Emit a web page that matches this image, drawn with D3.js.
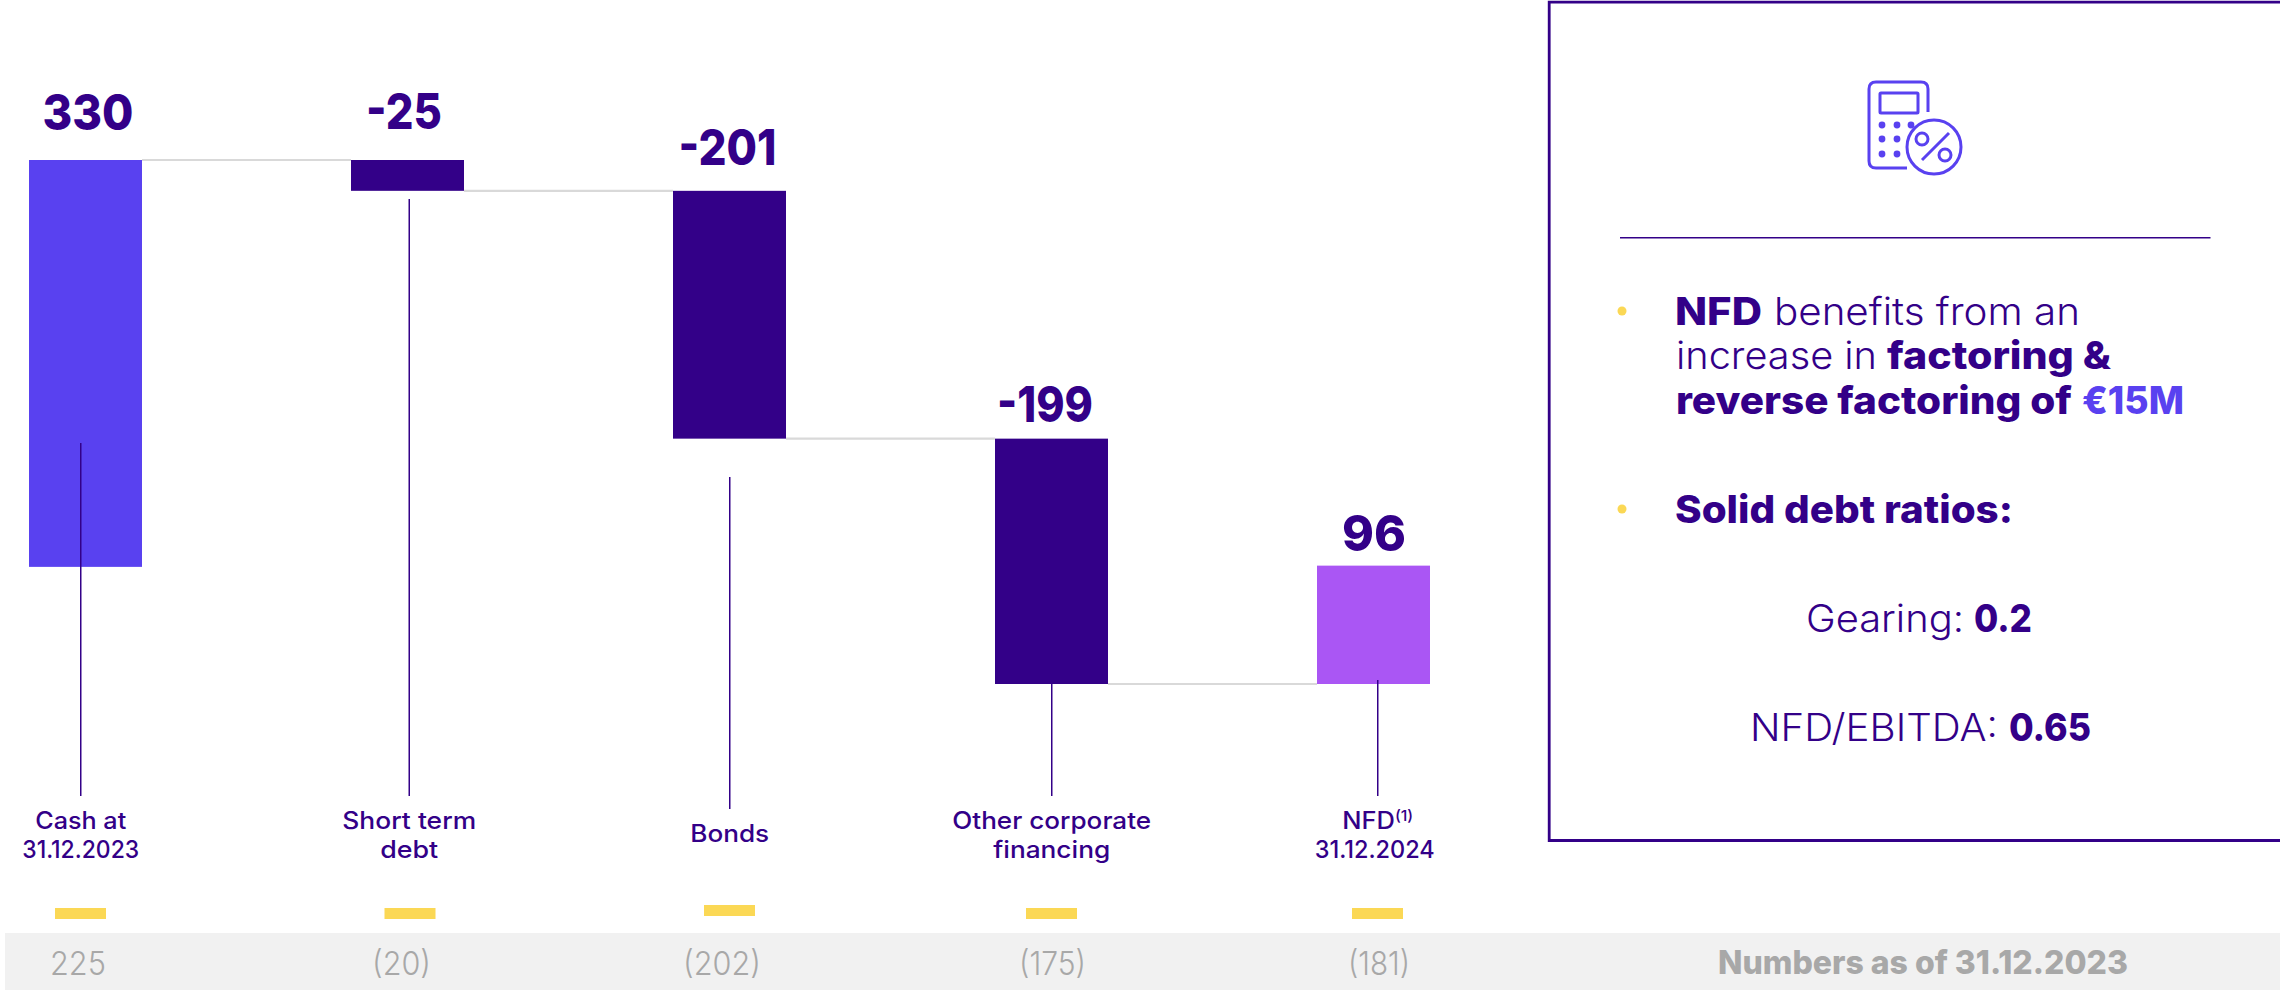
<!DOCTYPE html>
<html>
<head>
<meta charset="utf-8">
<script src="https://cdnjs.cloudflare.com/ajax/libs/d3/7.9.0/d3.min.js"></script>
<style>
  html, body { margin: 0; padding: 0; background: #fff; overflow: hidden; }
  svg { display: block; }
  text { font-family: Inter, "Open Sans", sans-serif; }
</style>
</head>
<body>
<svg id="chart" width="2280" height="990"></svg>
<script>
// Net financial debt bridge, in EUR millions
const categories = ["Cash", "Short term debt", "Bonds", "Other corporate financing", "NFD"];
const stepValues = [330, -25, -201, -199, 96];
const stepLabels = ["330", "-25", "-201", "-199", "96"];
const categoryLines = [
  [["Cash at"], ["31.12.2023"]],
  [["Short term"], ["debt"]],
  [["Bonds"]],
  [["Other corporate"], ["financing"]],
  [["NFD", "(1)"], ["31.12.2024"]]
];
const priorYearLabels = ["225", "(20)", "(202)", "(175)", "(181)"];
const priorYearCaption = "Numbers as of 31.12.2023";

const INK = "#330088", BLUE = "#5941f0", VIOLET = "#aa56f4", YELLOW = "#fbd855";
const RULE = "#d9d9d9", BAND = "#f1f1f1", MUTED = "#a8a8a8";

const svg = d3.select("#chart");

const x = d3.scaleBand().domain(categories).range([29, 1430]).paddingInner(209 / 322);
const y = d3.scaleLinear().domain([-95, 330]).range([684, 160]);

// Running totals give every step of the bridge its two ends
let running = 0;
const steps = categories.map((name, i) => {
  const v = stepValues[i];
  const from = running, to = running + v;
  if (i < categories.length - 1) running = to;
  return { name, i, v, from, to, hi: Math.max(from, to), lo: Math.min(from, to) };
});

// Draws a line of styled runs, stretched horizontally so that it spans a set width
function fitLine(parent, runs, { left, center, width, baseline, size, weight = 400, fill = INK }) {
  const t = parent.append("text").attr("y", 0).attr("font-size", size).attr("font-weight", weight).attr("fill", fill);
  runs.forEach(r => {
    const s = t.append("tspan").text(r.text);
    if (r.size) s.attr("font-size", r.size);
    if (r.dy) s.attr("dy", r.dy);
  });
  const natural = t.node().getComputedTextLength();
  const sx = width ? width / natural : 1;
  const w = natural * sx;
  const x0 = left !== undefined ? left : center - w / 2;
  t.attr("transform", `translate(${x0},${baseline}) scale(${sx},1)`);
  return t;
}

// Grey strip with last year's figures
svg.append("rect").attr("x", 5).attr("y", 933).attr("width", 2275).attr("height", 57).attr("fill", BAND);

// Connectors between consecutive bars
const connectors = steps.slice(0, -1).map(s => ({
  x1: x(s.name) + x.bandwidth(),
  x2: x(categories[s.i + 1]),
  level: s.to
}));
svg.append("g").selectAll("line").data(connectors).join("line")
  .attr("x1", d => d.x1).attr("x2", d => d.x2)
  .attr("y1", d => y(d.level)).attr("y2", d => y(d.level))
  .attr("stroke", RULE).attr("stroke-width", 2.2);

// Bars
svg.append("g").selectAll("rect").data(steps).join("rect")
  .attr("x", d => x(d.name)).attr("width", x.bandwidth())
  .attr("y", d => y(d.hi)).attr("height", d => y(d.lo) - y(d.hi))
  .attr("fill", d => d.i === 0 ? BLUE : d.i === 4 ? VIOLET : INK);

// Leaders running from the bars down to the category labels
const labelCenters = [80.75, 409.25, 729.75, 1051.75, 1377.75];
const leaderTops = [443, 199, 477, 681, 680];
const leaderEnds = [796, 796, 809, 796, 796];
svg.append("g").selectAll("line").data(steps).join("line")
  .attr("x1", d => labelCenters[d.i]).attr("x2", d => labelCenters[d.i])
  .attr("y1", d => leaderTops[d.i]).attr("y2", d => leaderEnds[d.i])
  .attr("stroke", INK).attr("stroke-width", 1.5);

// Value labels above the bars
const valueCenters = [88, 404, 727.5, 1045, 1374];
const valueBaselines = [130, 129, 165, 422, 551];
const valueWidths = [91, 76, 98, 96, 64];
stepLabels.forEach((s, i) => fitLine(svg, [{ text: s }], {
  center: valueCenters[i], width: valueWidths[i], baseline: valueBaselines[i], size: 50, weight: 800
}));

// Category labels
const labelWidths = [[91, 117], [134, 58], [79], [199, 117], [71, 120]];
const labelBaselines = [[829, 858], [829, 858], [842], [829, 858], [829, 858]];
categoryLines.forEach((lines, i) => lines.forEach((line, j) => {
  const runs = line.map((t, k) => k === 0 ? { text: t } : { text: t, size: 15, dy: -8 });
  fitLine(svg, runs, {
    center: labelCenters[i] - (j === 1 && i === 4 ? 3 : 0), width: labelWidths[i][j],
    baseline: labelBaselines[i][j], size: 24, weight: 500
  });
}));

// Yellow dashes
const dashCenters = [80.5, 410, 729.5, 1051.5, 1377.5];
const dashTops = [908, 908, 905, 908, 908];
svg.append("g").selectAll("rect").data(steps).join("rect")
  .attr("x", d => dashCenters[d.i] - 25.5).attr("y", d => dashTops[d.i])
  .attr("width", 51).attr("height", 11).attr("fill", YELLOW);

// Prior-year figures
const priorCenters = [78, 401.5, 722, 1052.5, 1379];
const priorWidths = [56, 59, 78, 67, 62];
priorYearLabels.forEach((s, i) => fitLine(svg, [{ text: s }], {
  center: priorCenters[i], width: priorWidths[i], baseline: 975, size: 33, weight: 300, fill: MUTED
}));
fitLine(svg, [{ text: priorYearCaption }], { left: 1718, width: 410, baseline: 974, size: 33, weight: 800, fill: MUTED });

// Side panel: frame open on the right edge
svg.append("path").attr("d", "M2280 2.2 H1549.2 V840.5 H2280")
  .attr("fill", "none").attr("stroke", INK).attr("stroke-width", 2.8);
svg.append("line").attr("x1", 1620).attr("x2", 2210.5).attr("y1", 237.75).attr("y2", 237.75)
  .attr("stroke", INK).attr("stroke-width", 1.5);

// Calculator and percent icon
const icon = svg.append("g").attr("fill", "none").attr("stroke", BLUE).attr("stroke-width", 3);
icon.append("path").attr("d", "M1907 168 H1876 Q1869 168 1869 161 V89 Q1869 82 1876 82 H1921 Q1928 82 1928 89 V112");
icon.append("rect").attr("x", 1880).attr("y", 93).attr("width", 38).attr("height", 20).attr("rx", 1);
icon.append("circle").attr("cx", 1934).attr("cy", 147).attr("r", 27);
icon.append("circle").attr("cx", 1922).attr("cy", 139).attr("r", 6);
icon.append("circle").attr("cx", 1945).attr("cy", 155).attr("r", 6);
icon.append("line").attr("x1", 1922).attr("y1", 160).attr("x2", 1949).attr("y2", 133);
[[1882, 125], [1897, 125], [1911, 125], [1882, 139], [1897, 139], [1882, 154], [1897, 154]].forEach(([cx, cy]) =>
  svg.append("circle").attr("cx", cx).attr("cy", cy).attr("r", 3.4).attr("fill", BLUE));

// Panel bullets and text
svg.append("circle").attr("cx", 1622).attr("cy", 311).attr("r", 4.5).attr("fill", YELLOW);
svg.append("circle").attr("cx", 1622).attr("cy", 509).attr("r", 4.5).attr("fill", YELLOW);

const B = 800, L = 300;
const panelRuns = [
  ["NFD", B, INK, 1675, 87, 325],
  ["benefits from an", L, INK, 1774, 306, 325],
  ["increase in", L, INK, 1676, 201, 369],
  ["factoring &", B, INK, 1887, 224, 369],
  ["reverse factoring of", B, INK, 1676, 396, 414],
  ["€15M", B, BLUE, 2082, 102, 414],
  ["Solid debt ratios:", B, INK, 1675, 338, 523],
  ["Gearing:", L, INK, 1806, 158, 632],
  ["0.2", B, INK, 1974, 58, 632],
  ["NFD/EBITDA:", L, INK, 1750, 248, 741],
  ["0.65", B, INK, 2009, 82, 741]
];
panelRuns.forEach(([text, weight, fill, left, width, baseline]) =>
  fitLine(svg, [{ text }], { left, width, baseline, size: 38, weight, fill }));
</script>
</body>
</html>
